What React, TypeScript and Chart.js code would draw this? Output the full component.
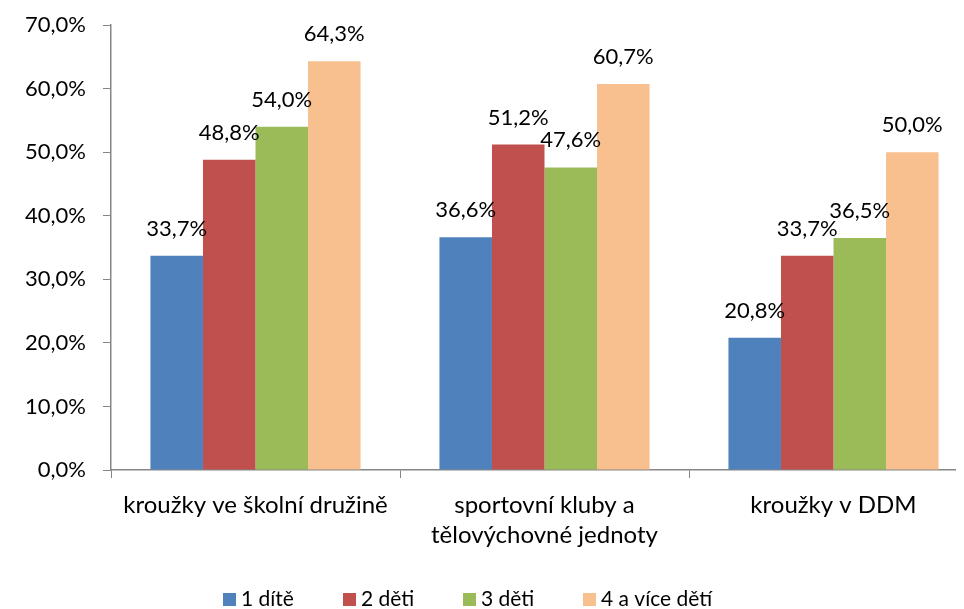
import React, { useEffect, useRef } from "react";
import { Chart, registerables } from "chart.js";

Chart.register(...registerables);

const categories: (string | string[])[] = [
  "kroužky ve školní družině",
  ["sportovní kluby a", "tělovýchovné jednoty"],
  "kroužky v DDM",
];
const seriesNames = ["1 dítě", "2 děti", "3 děti", "4 a více dětí"];
const series1 = [33.7, 36.6, 20.8];
const series2 = [48.8, 51.2, 33.7];
const series3 = [54.0, 47.6, 36.5];
const series4 = [64.3, 60.7, 50.0];
const seriesColors = ["#4F81BD", "#C0504D", "#9BBB59", "#F9C08F"];
const yTicks = [0, 10, 20, 30, 40, 50, 60, 70];

const FONT = "Lato";
const fmt = (v: number) => v.toFixed(1).replace(".", ",") + "%";

export default function App() {
  const ref = useRef<HTMLCanvasElement | null>(null);
  useEffect(() => {
    if (!ref.current) return;
    const values = [series1, series2, series3, series4];
    const labelPlugin = {
      id: "barLabels",
      afterDatasetsDraw(chart: any) {
        const ctx = chart.ctx;
        ctx.save();
        ctx.font = `22px ${FONT}`;
        ctx.fillStyle = "#000";
        ctx.textAlign = "center";
        ctx.textBaseline = "alphabetic";
        chart.data.datasets.forEach((ds: any, i: number) => {
          const meta = chart.getDatasetMeta(i);
          meta.data.forEach((bar: any, j: number) => {
            ctx.fillText(fmt(ds.data[j]), bar.x, bar.y - 20);
          });
        });
        ctx.restore();
      },
    };
    const legendPlugin = {
      id: "fixedLegend",
      afterDraw(chart: any) {
        const ctx = chart.ctx;
        ctx.save();
        ctx.font = `21px ${FONT}`;
        ctx.textBaseline = "alphabetic";
        ctx.textAlign = "left";
        seriesNames.forEach((name, i) => {
          const x = 223 + i * 120;
          ctx.fillStyle = seriesColors[i];
          ctx.fillRect(x, 593, 13, 13);
          ctx.fillStyle = "#000";
          ctx.fillText(name, x + 18, 606);
        });
        ctx.restore();
      },
    };
    const chart = new Chart(ref.current, {
      type: "bar",
      data: {
        labels: categories,
        datasets: values.map((d, i) => ({
          label: seriesNames[i],
          data: d,
          backgroundColor: seriesColors[i],
          borderWidth: 0,
          categoryPercentage: 0.727,
          barPercentage: 1,
        })),
      },
      options: {
        animation: false,
        responsive: false,
        layout: { padding: { top: 25, right: 12, left: 0, bottom: 0 } },
        plugins: {
          legend: { display: false },
          tooltip: { enabled: false },
        },
        scales: {
          x: {
            offset: true,
            grid: {
              offset: true,
              drawOnChartArea: false,
              drawTicks: true,
              tickLength: 8,
              color: "#868686",
            },
            border: { color: "#868686", width: 1.5 },
            ticks: {
              color: "#000",
              autoSkip: false,
              maxRotation: 0,
              padding: 12,
              font: { family: FONT, size: 24, lineHeight: "30px" },
            },
            afterFit: (s: any) => {
              s.height = 139;
            },
          },
          y: {
            min: 0,
            max: 70,
            afterBuildTicks: (s: any) => {
              s.ticks = yTicks.map((v) => ({ value: v }));
            },
            grid: {
              drawOnChartArea: false,
              drawTicks: true,
              tickLength: 8,
              color: "#868686",
            },
            border: { color: "#868686", width: 1.5 },
            ticks: {
              color: "#000",
              padding: 17,
              font: { family: FONT, size: 22 },
              callback: (v: any) => fmt(Number(v)),
            },
            afterFit: (s: any) => {
              s.width = 111;
              s.paddingTop = 12;
              s.paddingBottom = 12;
            },
          },
        },
      },
      plugins: [labelPlugin, legendPlugin],
    });
    return () => chart.destroy();
  }, []);
  return (
    <div
      style={{
        position: "relative",
        margin: "-8px 0 0 -8px",
        width: 964,
        height: 609,
        overflow: "hidden",
        background: "#fff",
      }}
    >
      <canvas ref={ref} width={990} height={609} style={{ display: "block" }} />
    </div>
  );
}
